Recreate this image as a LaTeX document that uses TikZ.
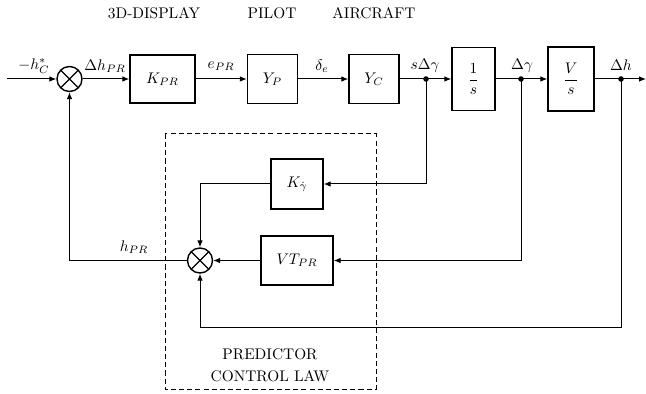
\documentclass[tikz,border=0pt]{standalone}
\usetikzlibrary{arrows.meta}
\begin{document}
\begin{tikzpicture}[x=0.65pt,y=-0.65pt,
  line width=0.65pt,
  blk/.style={draw,rectangle,inner sep=0pt,line width=0.9pt},
  sumj/.style={draw,circle,inner sep=0pt,minimum size=16.25pt,line width=0.9pt,
    path picture={\draw[line width=0.8pt] (path picture bounding box.north west) -- (path picture bounding box.south east)
      (path picture bounding box.north east) -- (path picture bounding box.south west);}},
  dotj/.style={circle,fill,inner sep=0pt,minimum size=3.6pt},
  lbl/.style={inner sep=1pt},
  sig/.style={-{Latex[length=4.5pt,width=3.6pt]}},
  ttl/.style={inner sep=1pt}]
\useasboundingbox (0,0) rectangle (646,394);
% titles
\node[ttl] (t1) at (154,13) {3D-DISPLAY};
\node[ttl] (t2) at (272,13) {PILOT};
\node[ttl] (t3) at (374,13) {AIRCRAFT};
% forward path
\coordinate (in) at (7,79);
\node[sumj] (s1) at (69.5,79) {};
\node[blk,minimum width=42.25pt,minimum height=31.2pt] (kpr) at (162.5,79) {$K_{PR}$};
\node[blk,minimum width=32.5pt,minimum height=31.5pt] (yp) at (272.5,79) {$Y_P$};
\node[blk,minimum width=32.5pt,minimum height=31.5pt] (yc) at (374,79) {$Y_C$};
\node[dotj] (d1) at (426,79) {};
\node[blk,minimum width=28pt,minimum height=41pt] (int) at (473.5,79) {$\displaystyle\frac{1}{s}$};
\node[dotj] (d2) at (521,79) {};
\node[blk,minimum width=29.9pt,minimum height=41.6pt] (vs) at (571,79) {$\displaystyle\frac{V}{s}$};
\node[dotj] (d3) at (621,79) {};
\coordinate (out) at (646,79);
% feedback blocks
\node[blk,minimum width=33.8pt,minimum height=32.5pt] (kg) at (297,184) {$K_{\dot\gamma}$};
\node[blk,minimum width=46.8pt,minimum height=31.8pt] (vt) at (297,260.5) {$VT_{PR}$};
\node[sumj] (s2) at (200,260.5) {};
\coordinate (bot) at (621,327);
% dashed box
\draw[dash pattern=on 3.3pt off 2pt,line width=0.65pt] (165,134) rectangle (376,389);
\node[align=center,inner sep=0pt] (pcl) at (270,365) {PREDICTOR\\[2pt]CONTROL LAW};
% labels
\node[lbl] (l1) at (34,66) {$-h_C^*$};
\node[lbl] (l2) at (105,66) {$\Delta h_{PR}$};
\node[lbl] (l3) at (221,66) {$e_{PR}$};
\node[lbl] (l4) at (322,66) {$\delta_e$};
\node[lbl] (l5) at (425,66) {$s\Delta\gamma$};
\node[lbl] (l6) at (522,66) {$\Delta\gamma$};
\node[lbl] (l7) at (621,65) {$\Delta h$};
\node[lbl] (l8) at (134,247) {$h_{PR}$};
% connectors
\draw[sig] (in) -- (s1);
\draw[sig] (s1) -- (kpr);
\draw[sig] (kpr) -- (yp);
\draw[sig] (yp) -- (yc);
\draw[sig] (yc) -- (int);
\draw[sig] (int) -- (vs);
\draw[sig] (vs) -- (out);
\draw[sig] (d1.center) |- (kg.east);
\draw[sig] (kg.west) -| (s2.north);
\draw[sig] (d2.center) |- (vt.east);
\draw[sig] (vt.west) -- (s2.east);
\draw[sig] (d3.center) -- (bot) -| (s2.south);
\draw[sig] (s2.west) -| (s1.south);
\end{tikzpicture}
\end{document}
